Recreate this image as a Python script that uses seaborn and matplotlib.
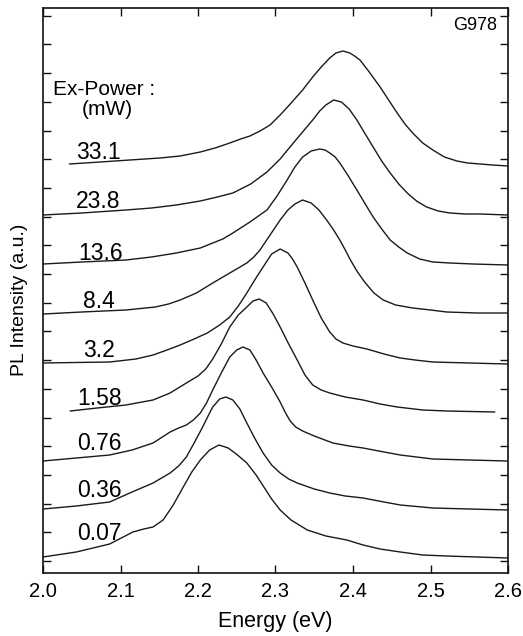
import matplotlib
matplotlib.use("Agg")
import matplotlib.pyplot as plt
import seaborn as sns
import pandas as pd

# excitation power labels (mW), top curve first
powers = ["33.1", "23.8", "13.6", "8.4", "3.2", "1.58", "0.76", "0.36", "0.07"]
# vertical offset of each spectrum (a.u.)
offsets = [409, 358, 309, 259, 210, 162, 112, 64, 16]

e_331 = [2.034, 2.074, 2.112, 2.151, 2.177, 2.203, 2.222, 2.241, 2.255, 2.267, 2.280, 2.293,
         2.306, 2.319, 2.327, 2.335, 2.342, 2.348, 2.359, 2.370, 2.378, 2.387, 2.396, 2.402,
         2.409, 2.420, 2.435, 2.446, 2.457, 2.467, 2.477, 2.490, 2.503, 2.518, 2.534, 2.548,
         2.564, 2.580, 2.600]
pl_331 = [0, 2, 4, 6, 8, 12, 16, 21, 25, 28, 33, 39,
          49, 60, 67, 74, 81, 87, 97, 106, 111, 113, 111, 108,
          104, 93, 77, 64, 51, 40, 31, 21, 14, 7, 3, 1,
          0, -1, -2]

e_238 = [2.000, 2.050, 2.107, 2.140, 2.172, 2.203, 2.225, 2.245, 2.268, 2.289, 2.306, 2.323,
         2.336, 2.348, 2.357, 2.365, 2.375, 2.385, 2.395, 2.405, 2.415, 2.426, 2.437, 2.448,
         2.459, 2.470, 2.482, 2.495, 2.510, 2.525, 2.545, 2.564, 2.600]
pl_238 = [0, 2, 5, 7, 10, 14, 18, 22, 31, 43, 56, 72,
          84, 95, 104, 110, 115, 113, 106, 95, 82, 68, 54, 42,
          31, 22, 14, 8, 4, 2, 1, 1, 0]

e_136 = [2.000, 2.050, 2.107, 2.140, 2.172, 2.203, 2.219, 2.232, 2.245, 2.267, 2.289, 2.302,
         2.315, 2.325, 2.335, 2.346, 2.357, 2.364, 2.370, 2.377, 2.383, 2.394, 2.405, 2.415,
         2.426, 2.437, 2.448, 2.459, 2.470, 2.486, 2.503, 2.525, 2.555, 2.600]
pl_136 = [0, 2, 4, 7, 11, 16, 21, 25, 31, 42, 54, 68,
          84, 97, 107, 113, 115, 114, 111, 107, 101, 88, 74, 61,
          47, 35, 24, 17, 11, 5, 2, 1, 0, -1]

e_84 = [2.000, 2.050, 2.107, 2.145, 2.162, 2.177, 2.198, 2.219, 2.241, 2.263, 2.272, 2.280,
        2.293, 2.306, 2.316, 2.325, 2.335, 2.346, 2.356, 2.366, 2.375, 2.383, 2.390, 2.396,
        2.405, 2.415, 2.427, 2.439, 2.455, 2.477, 2.500, 2.521, 2.560, 2.599]
pl_84 = [0, 2, 4, 7, 10, 14, 21, 31, 41, 51, 57, 64,
         79, 94, 104, 110, 114, 111, 104, 94, 84, 74, 64, 55,
         43, 32, 21, 14, 9, 6, 4, 2, 1, 1]

e_32 = [2.000, 2.086, 2.120, 2.142, 2.160, 2.177, 2.195, 2.212, 2.228, 2.241, 2.252, 2.263,
        2.274, 2.284, 2.295, 2.306, 2.316, 2.322, 2.328, 2.338, 2.348, 2.359, 2.370, 2.378,
        2.387, 2.400, 2.418, 2.440, 2.461, 2.480, 2.503, 2.550, 2.599]
pl_32 = [0, 1, 4, 8, 13, 18, 24, 30, 38, 46, 57, 70,
         84, 96, 109, 114, 110, 104, 96, 80, 63, 45, 31, 24,
         20, 17, 14, 9, 5, 3, 1, 0, -1]

e_158 = [2.035, 2.070, 2.107, 2.142, 2.164, 2.185, 2.200, 2.210, 2.219, 2.230, 2.241, 2.252,
         2.263, 2.271, 2.279, 2.288, 2.297, 2.306, 2.317, 2.328, 2.338, 2.348, 2.359, 2.370,
         2.390, 2.413, 2.435, 2.457, 2.490, 2.521, 2.583]
pl_158 = [0, 3, 6, 11, 18, 28, 35, 42, 52, 67, 84, 96,
          104, 110, 112, 108, 97, 84, 67, 51, 36, 26, 21, 18,
          14, 11, 7, 4, 1, 0, -1]

e_076 = [2.000, 2.043, 2.086, 2.115, 2.142, 2.164, 2.175, 2.185, 2.194, 2.203, 2.211, 2.219,
         2.230, 2.241, 2.250, 2.258, 2.267, 2.275, 2.284, 2.295, 2.306, 2.313, 2.319, 2.326,
         2.335, 2.350, 2.374, 2.395, 2.413, 2.440, 2.461, 2.503, 2.550, 2.599]
pl_076 = [0, 3, 6, 11, 18, 29, 33, 36, 41, 48, 58, 71,
          88, 104, 111, 114, 111, 101, 88, 74, 59, 48, 40, 34,
          30, 25, 18, 15, 13, 9, 6, 2, 1, 0]

e_036 = [2.000, 2.043, 2.086, 2.112, 2.142, 2.164, 2.175, 2.185, 2.195, 2.206, 2.213, 2.219,
         2.228, 2.236, 2.245, 2.254, 2.263, 2.273, 2.284, 2.295, 2.306, 2.317, 2.328, 2.350,
         2.370, 2.390, 2.413, 2.440, 2.461, 2.503, 2.550, 2.600]
pl_036 = [0, 3, 7, 16, 26, 36, 43, 52, 66, 82, 93, 102,
          110, 112, 109, 100, 86, 71, 56, 44, 36, 30, 26, 20,
          16, 13, 11, 7, 4, 1, 0, -1]

e_007 = [2.000, 2.043, 2.086, 2.116, 2.130, 2.142, 2.155, 2.168, 2.181, 2.192, 2.203, 2.215,
         2.227, 2.239, 2.251, 2.263, 2.275, 2.285, 2.295, 2.306, 2.320, 2.341, 2.365, 2.392,
         2.413, 2.435, 2.461, 2.490, 2.521, 2.560, 2.600]
pl_007 = [0, 5, 13, 25, 28, 30, 37, 52, 70, 85, 97, 107,
          112, 109, 102, 94, 82, 70, 58, 47, 37, 27, 21, 17,
          12, 8, 5, 2, 1, 0, -1]

energies = [e_331, e_238, e_136, e_84, e_32, e_158, e_076, e_036, e_007]
spectra = [pl_331, pl_238, pl_136, pl_84, pl_32, pl_158, pl_076, pl_036, pl_007]

rows = []
for p, off, e, s in zip(powers, offsets, energies, spectra):
    for x, y in zip(e, s):
        rows.append({"power": p, "energy": x, "pl": y + off})
df = pd.DataFrame(rows)

sns.set_style("ticks")
plt.rcParams["font.family"] = ["Liberation Sans", "DejaVu Sans"]
plt.rcParams["text.color"] = "black"
plt.rcParams["xtick.color"] = "#111111"
plt.rcParams["ytick.color"] = "#111111"
plt.rcParams["xtick.labelcolor"] = "black"

W, H = 523, 636
fig = plt.figure(figsize=(W / 100, H / 100), dpi=100)
ax = fig.add_axes([43 / W, 1 - 573 / H, 465 / W, 565 / H])

sns.lineplot(data=df, x="energy", y="pl", hue="power", units="power", estimator=None,
             sort=False, palette={p: "#1a1a1a" for p in powers}, linewidth=1.0,
             legend=False, ax=ax)

ax.set_xlim(2.0, 2.6)
ax.set_ylim(0, 565)
ax.set_xticks([2.0, 2.1, 2.2, 2.3, 2.4, 2.5, 2.6])
ax.set_xticklabels(["2.0", "2.1", "2.2", "2.3", "2.4", "2.5", "2.6"], fontsize=14.5)
ax.set_yticks([12 + 28.7 * k for k in range(20)])
ax.set_yticklabels([])
ax.set_xlabel("")
ax.set_ylabel("")
ax.tick_params(direction="in", top=True, right=True, length=5.5, width=1.0, pad=6.5)
for sp in ax.spines.values():
    sp.set_linewidth(1.2)
    sp.set_color("#111111")


def px(x, y):
    return x / W, 1 - y / H


fig.text(*px(275, 622), "Energy (eV)", ha="center", va="center", fontsize=15.5)
fig.text(*px(19, 300), "PL Intensity (a.u.)", ha="center", va="center",
         rotation=90, fontsize=14)
fig.text(*px(497, 30), "G978", ha="right", va="baseline", fontsize=13)
fig.text(*px(53, 95), "Ex-Power :", ha="left", va="baseline", fontsize=15)
fig.text(*px(82, 115), "(mW)", ha="left", va="baseline", fontsize=15)

label_pos = [(76, 159), (76, 208), (78, 260), (83, 308), (83, 357),
             (77, 405), (77, 450), (77, 497), (77, 540)]
for p, (lx, ly) in zip(powers, label_pos):
    fig.text(*px(lx, ly), p, ha="left", va="baseline", fontsize=16.5)

fig.savefig("out.png", dpi=100)
